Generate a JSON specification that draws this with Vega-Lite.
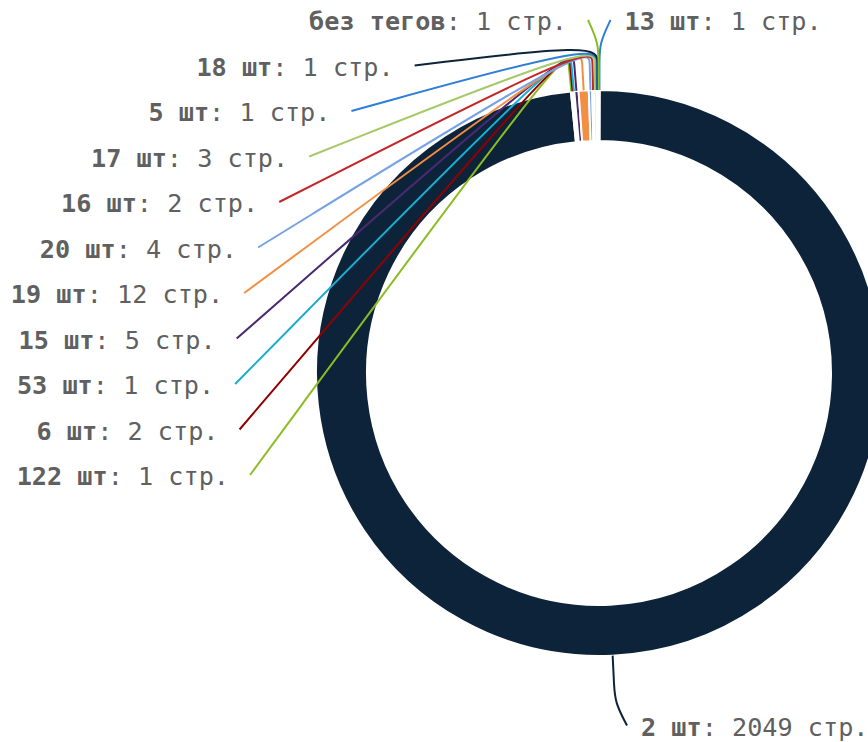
{
  "$schema": "https://vega.github.io/schema/vega-lite/v6.json",
  "width": 868,
  "height": 742,
  "autosize": {"type": "none"},
  "padding": 0,
  "background": "white",
  "config": {"view": {"stroke": null}},
  "data": {
    "values": [
      {"i": 0, "key": "13 шт", "pages": 1},
      {"i": 1, "key": "2 шт", "pages": 2049},
      {"i": 2, "key": "122 шт", "pages": 1},
      {"i": 3, "key": "6 шт", "pages": 2},
      {"i": 4, "key": "53 шт", "pages": 1},
      {"i": 5, "key": "15 шт", "pages": 5},
      {"i": 6, "key": "19 шт", "pages": 12},
      {"i": 7, "key": "20 шт", "pages": 4},
      {"i": 8, "key": "16 шт", "pages": 2},
      {"i": 9, "key": "17 шт", "pages": 3},
      {"i": 10, "key": "5 шт", "pages": 1},
      {"i": 11, "key": "18 шт", "pages": 1},
      {"i": 12, "key": "без тегов", "pages": 1}
    ]
  },
  "transform": [
    {"joinaggregate": [{"op": "sum", "field": "pages", "as": "total"}]},
    {"window": [{"op": "sum", "field": "pages", "as": "cum"}], "sort": [{"field": "i", "order": "ascending"}], "frame": [null, 0]},
    {"calculate": "2 * PI * (datum.cum - datum.pages / 2) / datum.total", "as": "mid"},
    {"calculate": "datum.mid > PI ? 'left' : 'right'", "as": "side"},
    {"window": [{"op": "row_number", "as": "rank"}], "groupby": ["side"], "sort": [{"field": "i", "order": "descending"}]},
    {"calculate": "datum.side == 'left' ? (353 - (datum.rank - 1) * 45.5) / 283 : (353 / 283) * cos(datum.mid)", "as": "ly"},
    {"calculate": "(datum.side == 'left' ? -1 : 1) * (sqrt(max(0, pow(353 / 283, 2) - pow(datum.ly, 2))) + 11 / 283)", "as": "lx"},
    {"calculate": "sin(datum.mid)", "as": "ex"},
    {"calculate": "cos(datum.mid)", "as": "ey"},
    {"calculate": "1.1 * sin(datum.mid)", "as": "bx"},
    {"calculate": "1.1 * cos(datum.mid)", "as": "by"},
    {"calculate": "1.165 * sin(datum.mid)", "as": "kx"},
    {"calculate": "1.165 * cos(datum.mid)", "as": "ky"},
    {"calculate": "': ' + datum.pages + ' стр.'", "as": "rest"},
    {"calculate": "datum.side == 'left' ? datum.lx - (21 + (length(datum.key) + length(datum.rest)) * 15.17) / 283 : datum.lx + 14 / 283", "as": "keyX"},
    {"calculate": "datum.keyX + length(datum.key) * 15.17 / 283", "as": "restX"}
  ],
  "layer": [
    {
      "mark": {"type": "arc", "outerRadius": 283, "innerRadius": 232, "stroke": "white", "strokeWidth": 2},
      "encoding": {
        "theta": {"field": "pages", "type": "quantitative", "stack": true},
        "order": {"field": "i", "type": "quantitative"},
        "color": {
          "field": "key", "type": "nominal", "legend": null,
          "scale": {
            "domain": ["13 шт", "2 шт", "122 шт", "6 шт", "53 шт", "15 шт", "19 шт", "20 шт", "16 шт", "17 шт", "5 шт", "18 шт", "без тегов"],
            "range": ["#2f7ed8", "#0d233a", "#8bbc21", "#910000", "#1aadce", "#492970", "#f28f43", "#77a1e5", "#c42525", "#a6c96a", "#2f7ed8", "#0d233a", "#8bbc21"]
          }
        },
        "x": {"datum": 0, "type": "quantitative", "scale": {"domain": [-2.1166, 0.9505], "nice": false, "zero": false}, "axis": null},
        "y": {"datum": 0, "type": "quantitative", "scale": {"domain": [-1.3039, 1.318], "nice": false, "zero": false}, "axis": null}
      }
    },
    {
      "transform": [
        {"fold": ["lx", "kx", "bx", "ex"], "as": ["pt", "px"]},
        {"calculate": "datum.pt == 'lx' ? datum.ly : datum.pt == 'kx' ? datum.ky : datum.pt == 'bx' ? datum.by : datum.ey", "as": "py"},
        {"calculate": "indexof(['lx', 'kx', 'bx', 'ex'], datum.pt)", "as": "ord"}
      ],
      "mark": {"type": "line", "interpolate": "basis", "strokeWidth": 2},
      "encoding": {
        "x": {"field": "px", "type": "quantitative", "axis": null},
        "y": {"field": "py", "type": "quantitative", "axis": null},
        "detail": {"field": "key", "type": "nominal"},
        "color": {"field": "key", "type": "nominal", "legend": null},
        "order": {"field": "ord", "type": "quantitative"}
      }
    },
    {
      "mark": {"type": "text", "align": "left", "baseline": "middle", "dy": 2.5, "font": "DejaVu Sans Mono", "fontSize": 25.2, "fontWeight": "bold", "color": "#606060"},
      "encoding": {
        "x": {"field": "keyX", "type": "quantitative", "axis": null},
        "y": {"field": "ly", "type": "quantitative", "axis": null},
        "text": {"field": "key", "type": "nominal"}
      }
    },
    {
      "mark": {"type": "text", "align": "left", "baseline": "middle", "dy": 2.5, "font": "DejaVu Sans Mono", "fontSize": 25.2, "fontWeight": "normal", "color": "#606060"},
      "encoding": {
        "x": {"field": "restX", "type": "quantitative", "axis": null},
        "y": {"field": "ly", "type": "quantitative", "axis": null},
        "text": {"field": "rest", "type": "nominal"}
      }
    }
  ]
}
